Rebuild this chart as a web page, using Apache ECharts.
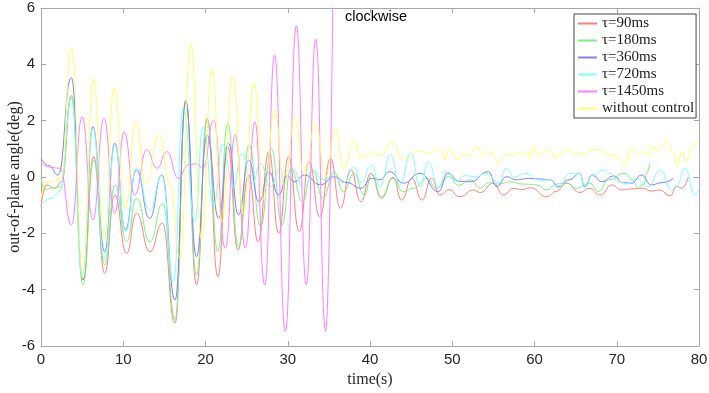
<!DOCTYPE html>
<html><head><meta charset="utf-8">
<script src="https://cdn.jsdelivr.net/npm/echarts@6/dist/echarts.min.js"></script>
<style>html,body{margin:0;padding:0;background:#fff}#c{width:709px;height:393px}</style>
</head><body><div id="c"></div>
<script>
const seriesNames = ['τ=90ms','τ=180ms','τ=360ms','τ=720ms','τ=1450ms','without control'];
const seriesColors = ['#ff7f7f','#7ff07f','#7f7fff','#7fffff','#ff7fff','#ffff66'];

const tau90 = [[0,-1.05],[0.65,-0.28],[1.66,-0.4],[2.5,-0.17],[3.7,2.85],[5.1,-3.66],[6.4,0.72],[7.74,-3.42],[8.96,-0.64],[10.4,-2.71],[11.6,-1.29],[13.25,-2.65],[14.75,-1.64],[16.3,-5.19],[17.6,2.73],[18.9,-3.83],[20.2,2.08],[21.5,-3.54],[22.7,1.08],[23.95,-2.59],[25.25,0.07],[26.4,-2.3],[27.7,0.9],[28.9,-2.0],[30.1,0.72],[31.4,-1.94],[32.6,0.54],[33.9,-1.41],[35.2,0.66],[36.4,-1.11],[37.65,0.25],[38.9,-0.88],[40.1,0.13],[41.4,-0.76],[42.8,-0.01],[43.85,-0.82],[45.1,-0.05],[46.3,-0.82],[47.5,-0.05],[48.5,-0.64],[49.6,-0.45],[50.9,-0.7],[52.6,-0.46],[53.4,-0.55],[55,-0.22],[56.2,-0.64],[57.4,-0.4],[58.5,-0.45],[59.5,-0.38],[61.5,-0.7],[62.7,-0.5],[63.9,-0.22],[65.5,-0.55],[66.7,-0.4],[68,-0.64],[69.4,-0.28],[70.6,-0.46],[71.8,-0.42],[73.2,-0.4],[74.2,-0.5],[75.2,-0.46],[76.5,-0.67],[77.3,-0.34],[77.9,-0.4],[78.7,-0.01]];
const tau180 = [[0,0.0],[0.4,-0.45],[1.25,-0.4],[2.4,-0.35],[3.7,2.91],[5.1,-3.83],[6.4,0.6],[7.74,-3.12],[9.0,-0.28],[10.4,-2.3],[11.6,-0.76],[13.25,-2.3],[14.8,-0.93],[16.3,-5.05],[17.6,2.67],[18.9,-3.48],[20.2,2.02],[21.5,-2.65],[22.7,1.9],[24.0,-2.47],[25.3,1.14],[26.7,-1.76],[28.0,1.02],[29.3,-1.7],[30.4,0.31],[31.8,-0.88],[33.0,0.25],[34.3,-0.76],[35.6,0.19],[36.8,-0.52],[38.05,0.13],[39.3,-0.64],[40.2,0.07],[41.4,-0.7],[42.8,-0.05],[44.05,-0.52],[45.3,-0.4],[46.9,-0.05],[48.1,-0.4],[49.5,0.01],[50.8,-0.3],[52.2,-0.1],[53.4,-0.4],[54.4,-0.2],[55.6,-0.25],[57,-0.17],[58.6,-0.25],[60.3,-0.28],[61.5,-0.46],[62.7,-0.25],[63.9,-0.2],[65.1,-0.4],[66.7,-0.22],[67.8,-0.52],[69,-0.1],[71,0.13],[71.9,-0.1],[72.6,-0.4],[73.3,-0.25],[73.6,0.1],[74,0.49]];
const tau360 = [[0,0.66],[1.0,0.4],[2.07,0.07],[3.69,3.53],[5.1,-3.66],[6.3,1.79],[7.74,-2.65],[8.96,1.2],[10.25,-1.88],[11.6,0.25],[13.2,-1.47],[14.7,0.07],[16.3,-4.37],[17.6,2.67],[18.9,-2.83],[20.2,1.49],[21.6,-1.47],[22.8,1.2],[24.0,-1.35],[25.25,0.6],[26.5,-0.88],[27.7,0.19],[28.9,-0.64],[29.95,0.05],[30.8,-0.17],[32,0.07],[34,-0.28],[35.6,0.01],[37.2,-0.2],[38.9,-0.4],[40.2,-0.05],[41.2,-0.1],[42.4,0.19],[44.05,-0.22],[46.1,0.13],[48.3,-0.52],[49.5,0.13],[50.8,-0.15],[52.2,-0.17],[54.4,0.19],[55.4,-0.34],[56.6,0.01],[57.8,-0.1],[59.3,-0.05],[60.7,-0.07],[61.9,-0.1],[62.9,-0.34],[64.2,-0.1],[65.5,0.13],[66.1,-0.34],[67,0.07],[68.2,-0.17],[69.6,0.04],[70.8,-0.2],[71.8,-0.22],[73.0,0.07],[74.2,-0.28],[75.5,-0.2],[76.9,-0.05]];
const tau720 = [[0,-1.0],[1.25,-0.76],[2.3,-0.52],[3.7,2.79],[5.0,-3.54],[6.3,1.73],[7.74,-2.95],[8.96,1.14],[10.3,-1.94],[11.6,0.31],[13.2,-1.17],[14.7,0.05],[16.1,-3.72],[17.3,2.44],[18.7,-1.59],[19.7,1.79],[21.0,-1.0],[22.1,1.16],[23.4,-0.34],[24.4,0.84],[25.65,-0.28],[26.7,0.49],[27.9,-0.34],[29.1,0.31],[29.6,-0.2],[30.55,0.31],[32.0,-0.4],[33.0,0.25],[34.3,-0.1],[35.5,0.05],[36.8,-0.2],[38.05,0.37],[38.9,-0.2],[40.2,0.43],[41.2,-0.34],[42.5,0.78],[43.65,-0.28],[44.95,0.86],[46.1,-0.34],[47.1,0.54],[48.3,-0.34],[49.4,0.19],[50.5,-0.15],[51.5,0.05],[52.8,0.01],[54.2,0.13],[55.6,-0.22],[56.6,0.31],[57.5,0.0],[59,0.13],[60.7,-0.12],[61.9,-0.1],[62.9,-0.4],[64.3,0.13],[65.5,0.13],[66.1,-0.4],[67.0,0.05],[68.4,0.25],[69.3,0.12],[70.2,-0.17],[71.4,-0.25],[72.4,-0.05],[73.8,-0.34],[75.3,0.25],[76.7,-0.46],[77.3,-0.3],[78.3,0.31],[79.5,-0.64],[80,-0.46]];
const tau1450 = [[0,0.54],[1.0,0.35],[2.3,0.31],[3.7,-1.7],[5.0,2.14],[6.3,-1.53],[7.66,2.08],[8.96,-1.29],[10.1,1.6],[11.4,-0.64],[12.85,0.96],[14.1,0.31],[15.3,0.9],[16.7,-0.05],[17.9,0.43],[18.9,0.47],[19.7,0.31],[21.0,2.02],[22.4,-2.53],[23.6,1.49],[24.85,-2.53],[26.0,1.96],[27.2,-3.83],[28.4,4.33],[29.7,-5.49],[31.05,5.37],[32.25,-3.83],[33.4,4.9],[34.6,-5.49],[35.5,6.8]];
const noControl = [[0,-0.8],[0.5,-0.2],[1.5,-0.15],[2.4,-0.05],[3.73,4.59],[5.1,-3.6],[6.36,3.48],[7.7,-2.2],[8.9,3.18],[10.25,-1.11],[11.55,1.96],[12.7,-0.22],[14.4,1.49],[15.7,-0.28],[16.9,-2.9],[18.2,4.75],[19.5,-2.18],[20.8,3.86],[22.0,-1.6],[23.3,3.6],[24.6,-1.3],[25.9,3.33],[27.1,-0.8],[28.4,2.38],[29.6,-0.3],[30.85,2.1],[32.0,0.07],[33.4,1.9],[34.6,0.01],[35.8,1.73],[36.8,0.31],[38.1,1.31],[38.9,0.68],[39.6,0.75],[40.4,0.9],[41.1,0.75],[42.8,1.22],[44.0,0.6],[45.9,0.93],[47.0,0.85],[48.5,0.98],[49.1,0.63],[49.7,1.02],[50.5,0.63],[51.3,0.8],[52.0,0.75],[53.0,1.08],[53.8,0.8],[54.8,0.85],[55.6,0.51],[56.6,0.8],[57.3,0.78],[57.9,0.85],[58.6,0.75],[59.2,0.9],[59.5,0.66],[59.9,1.08],[60.7,0.8],[61.9,0.96],[62.5,0.66],[63.3,0.85],[64.3,1.02],[64.7,0.8],[65.5,0.84],[66.1,0.8],[67.0,0.98],[68.0,0.96],[69.0,0.75],[69.6,0.8],[70.2,0.63],[71.0,0.39],[71.8,1.02],[72.6,0.8],[73.2,0.9],[73.8,0.75],[74.4,1.1],[75.0,0.9],[75.6,1.1],[76.1,1.31],[76.8,0.9],[77.4,0.37],[77.9,0.9],[78.4,0.54],[79.1,1.0],[79.7,1.2],[80,1.18]];

const allData = [tau90, tau180, tau360, tau720, tau1450, noControl];
const titleText = 'clockwise';
const xName = 'time(s)';
const yName = 'out-of-plane angle(deg)';

const axisGray = '#a8a8a8';
const labelColor = '#262626';

const chart = echarts.init(document.getElementById('c'), null, {renderer: 'canvas'});
const baseX = {type: 'value', min: 0, max: 80, interval: 10, splitLine: {show: false},
  axisLine: {show: true, onZero: false, lineStyle: {color: axisGray, width: 1}},
  axisTick: {show: true, inside: true, length: 5, lineStyle: {color: axisGray}}};
const baseY = {type: 'value', min: -6, max: 6, interval: 2, splitLine: {show: false},
  axisLine: {show: true, onZero: false, lineStyle: {color: axisGray, width: 1}},
  axisTick: {show: true, inside: true, length: 5, lineStyle: {color: axisGray}}};

chart.setOption({
  animation: false,
  backgroundColor: '#fff',
  grid: {left: 41, right: 10, top: 8, bottom: 47, containLabel: false, outerBoundsMode: 'none'},
  graphic: [{type: 'text', left: 345, top: 9, style: {text: titleText, fill: '#000', font: '14.5px "Liberation Sans", Arial, sans-serif'}}],
  legend: {
    orient: 'vertical', left: 574, top: 14,
    itemWidth: 19, itemHeight: 2, itemGap: 0,
    padding: [1, 2, 1, 3],
    borderColor: '#444', borderWidth: 1, backgroundColor: '#fff',
    textStyle: {fontFamily: '"Liberation Serif", "Times New Roman", serif', fontSize: 15, color: '#222', lineHeight: 17},
    data: seriesNames
  },
  xAxis: [
    Object.assign({}, baseX, {position: 'bottom', name: xName, nameLocation: 'middle', nameGap: 26, nameMoveOverlap: false,
      nameTextStyle: {fontFamily: '"Liberation Serif", "Times New Roman", serif', fontSize: 16, color: labelColor},
      axisLabel: {color: labelColor, fontFamily: '"Liberation Sans", Arial, sans-serif', fontSize: 15, margin: 6}}),
    Object.assign({}, baseX, {position: 'top', axisLabel: {show: false}})
  ],
  yAxis: [
    Object.assign({}, baseY, {position: 'left', name: yName, nameLocation: 'middle', nameGap: 18, nameRotate: 90, nameMoveOverlap: false,
      nameTextStyle: {fontFamily: '"Liberation Serif", "Times New Roman", serif', fontSize: 16, color: labelColor},
      axisLabel: {color: labelColor, fontFamily: '"Liberation Sans", Arial, sans-serif', fontSize: 15, margin: 6}}),
    Object.assign({}, baseY, {position: 'right', axisLabel: {show: false}})
  ],
  series: seriesNames.map((n, i) => ({
    name: n, type: 'line', data: allData[i], xAxisIndex: 0, yAxisIndex: 0,
    symbol: 'none', showSymbol: false, smooth: 0.5, smoothMonotone: 'x', clip: true,
    lineStyle: {color: seriesColors[i], width: 1}, itemStyle: {color: seriesColors[i]},
    emphasis: {disabled: true}
  }))
});
</script></body></html>
